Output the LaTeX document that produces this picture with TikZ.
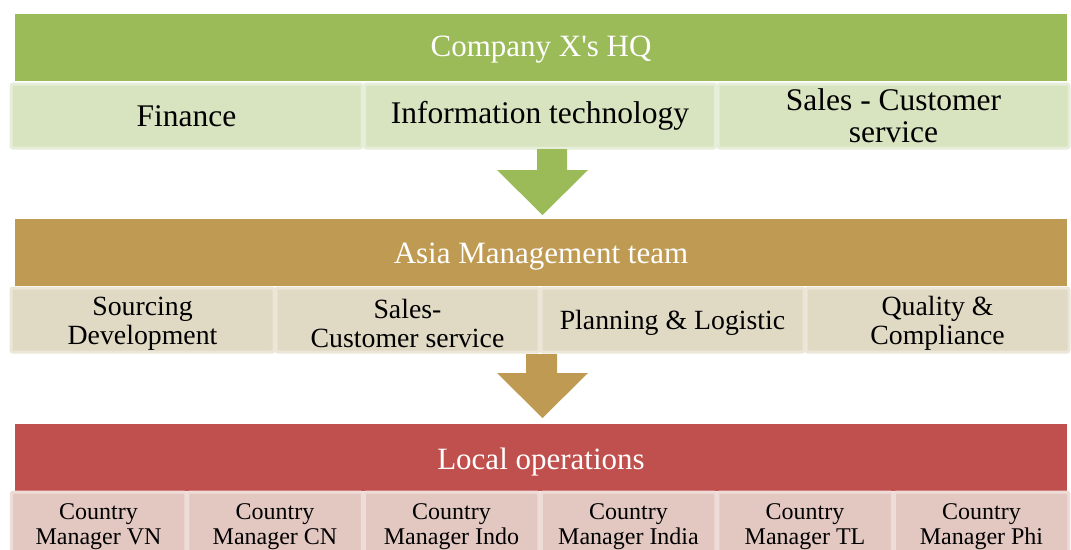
\documentclass[tikz,border=0pt]{standalone}
\usepackage{fontspec}
\setmainfont{Liberation Serif}
\definecolor{hqgreen}{HTML}{9BBB59}
\definecolor{gfill}{HTML}{D8E3BF}
\definecolor{gline}{HTML}{E6EDD8}
\definecolor{asbrown}{HTML}{BF9A52}
\definecolor{bfill}{HTML}{E0D9C4}
\definecolor{bline}{HTML}{EBE6D7}
\definecolor{locred}{HTML}{C0504D}
\definecolor{rfill}{HTML}{E3C8C2}
\definecolor{rline}{HTML}{EEDCD8}
\tikzset{
  head/.style={rectangle, inner sep=0, minimum width=1052, minimum height=67},
  headtext/.style={inner sep=0, text=white, font=\fontsize{31}{34}\selectfont},
  cellA/.style={rectangle, inner sep=0, fill=gfill, draw=gline, line width=3, rounded corners=2, minimum width=351, minimum height=64},
  cellB/.style={rectangle, inner sep=0, fill=bfill, draw=bline, line width=3, rounded corners=2, minimum width=263, minimum height=64},
  cellC/.style={rectangle, inner sep=0, fill=rfill, draw=rline, line width=3, rounded corners=2, minimum width=174.5, minimum height=64},
  textA/.style={inner sep=0, align=center, font=\fontsize{31.5}{32}\selectfont},
  textB/.style={inner sep=0, align=center, font=\fontsize{27.8}{29}\selectfont},
  textC/.style={inner sep=0, align=center, font=\fontsize{24}{25}\selectfont},
}
\begin{document}
\begin{tikzpicture}[x=1pt,y=-1pt]
\useasboundingbox (0,0) rectangle (1071,549);
\clip (0,0) rectangle (1071,549);
% HQ
\node[head, fill=hqgreen] (hq) at (541,47.5) {};
\node[headtext] (hq-t) at ([yshift=-2]hq.center) {Company X\textquotesingle s HQ};
\node[cellA] (fin) at (186.5,116) {};
\node[cellA] (it) at (540,116) {};
\node[cellA] (sal) at (893.5,116) {};
\node[textA] (fin-t) at ([yshift=0]fin.center) {Finance};
\node[textA] (it-t) at ([yshift=0]it.center) {Information technology};
\node[textA] (sal-t) at ([yshift=0.5]sal.center) {Sales - Customer\\service};
% arrow 1
\fill[hqgreen] (537,149) -- (567,149) -- (567,170) -- (588,170) -- (542.5,215) -- (497,170) -- (537,170) -- cycle;
% Asia
\node[head, fill=asbrown] (asia) at (541,252) {};
\node[headtext] (asia-t) at ([yshift=-4.5]asia.center) {Asia Management team};
\node[cellB] (src) at (142.5,320) {};
\node[cellB] (asal) at (407.5,320) {};
\node[cellB] (plan) at (672.5,320) {};
\node[cellB] (qual) at (937.5,320) {};
\node[textB] (src-t) at ([yshift=-3.5]src.center) {Sourcing\\Development};
\node[textB] (asal-t) at ([yshift=-3.5]asal.center) {Sales-\\Customer service};
\node[textB] (plan-t) at ([yshift=-3]plan.center) {Planning \& Logistic};
\node[textB] (qual-t) at ([yshift=-3.5]qual.center) {Quality \&\\Compliance};
% arrow 2
\fill[asbrown] (526,354) -- (557,354) -- (557,373) -- (588,373) -- (542.5,418) -- (497,373) -- (526,373) -- cycle;
% Local
\node[head, fill=locred] (loc) at (541,457.5) {};
\node[headtext] (loc-t) at ([yshift=-4.5]loc.center) {Local operations};
\node[cellC] (vn) at (98.5,524) {};
\node[cellC] (cn) at (275,524) {};
\node[cellC] (ind) at (451.5,524) {};
\node[cellC] (india) at (628.5,524) {};
\node[cellC] (tl) at (805,524) {};
\node[cellC] (phi) at (981.5,524) {};
\node[textC] (vn-t) at ([yshift=-2.5]vn.center) {Country\\Manager VN};
\node[textC] (cn-t) at ([yshift=-2.5]cn.center) {Country\\Manager CN};
\node[textC] (ind-t) at ([yshift=-2.5]ind.center) {Country\\Manager Indo};
\node[textC] (india-t) at ([yshift=-2.5]india.center) {Country\\Manager India};
\node[textC] (tl-t) at ([yshift=-2.5]tl.center) {Country\\Manager TL};
\node[textC] (phi-t) at ([yshift=-2.5]phi.center) {Country\\Manager Phi};
\end{tikzpicture}
\end{document}
